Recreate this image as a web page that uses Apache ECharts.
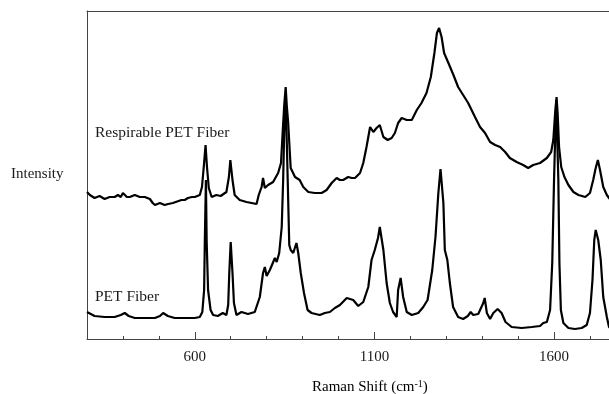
<!DOCTYPE html>
<html>
<head>
<meta charset="utf-8">
<script src="https://cdn.jsdelivr.net/npm/echarts@6/dist/echarts.min.js"></script>
<style>html,body{margin:0;padding:0;background:#fff}#c{width:609px;height:394px}</style>
</head>
<body>
<div id="c"></div>
<script>
// Raman shift (cm-1) vs. intensity (arbitrary units)
const petFiber = [[300,27],[321,23],[349,22],[377,22],[394,24],[405,26],[416,23],[433,21],[461,21],[489,21],[503,23],[512,26],[525,23],[544,21],[572,21],[600,21],[614,22],[621,27],[626,49],[628,99],[631,159],[633,99],[637,49],[644,29],[651,24],[664,23],[678,26],[688,24],[693,34],[696,66],[700,97],[705,66],[709,36],[716,24],[730,27],[748,25],[767,27],[781,42],[790,66],[795,72],[800,63],[809,69],[823,81],[828,77],[835,86],[842,112],[846,159],[849,209],[853,239],[856,199],[860,139],[863,94],[867,89],[874,86],[883,96],[888,86],[895,66],[904,46],[914,29],[925,26],[948,24],[962,26],[976,27],[990,31],[1004,34],[1023,41],[1027,43],[1041,39],[1055,33],[1069,37],[1083,52],[1092,79],[1101,89],[1110,101],[1115,112],[1125,89],[1134,56],[1143,36],[1152,27],[1162,22],[1166,49],[1173,61],[1180,42],[1190,27],[1204,24],[1222,26],[1236,32],[1248,39],[1261,69],[1270,102],[1278,146],[1284,170],[1292,136],[1296,89],[1303,79],[1310,56],[1319,32],[1333,22],[1347,20],[1360,23],[1368,27],[1375,24],[1389,25],[1394,24],[1403,36],[1407,41],[1413,26],[1422,20],[1431,26],[1443,30],[1454,26],[1465,17],[1482,12],[1510,11],[1538,12],[1561,13],[1570,16],[1580,17],[1589,29],[1595,76],[1600,159],[1606,239],[1612,159],[1615,76],[1619,29],[1626,16],[1640,11],[1658,10],[1677,11],[1691,14],[1700,26],[1707,59],[1712,99],[1716,109],[1723,99],[1730,79],[1737,42],[1747,22],[1753,12],[1765,8]];

const respirableFiber = [[300,147],[308,144],[321,141],[335,143],[349,140],[363,142],[377,142],[386,144],[394,142],[400,146],[411,142],[419,142],[433,144],[447,142],[461,142],[475,140],[483,136],[489,134],[503,136],[516,134],[526,135],[539,136],[544,137],[563,139],[572,139],[581,141],[592,142],[600,142],[614,144],[620,152],[625,172],[630,194],[634,172],[639,151],[647,142],[660,144],[672,143],[688,147],[695,162],[699,179],[705,159],[711,144],[725,139],[744,137],[758,136],[772,135],[778,144],[786,152],[790,161],[795,151],[804,154],[818,157],[832,166],[840,176],[845,209],[849,234],[853,252],[856,234],[860,216],[867,171],[879,162],[892,159],[902,152],[916,147],[934,146],[953,146],[967,149],[981,156],[995,161],[1004,159],[1013,159],[1027,162],[1037,161],[1046,161],[1060,166],[1069,176],[1078,192],[1088,212],[1097,207],[1106,211],[1115,214],[1125,202],[1137,199],[1148,201],[1157,206],[1166,216],[1176,221],[1190,219],[1204,219],[1218,229],[1231,236],[1245,246],[1257,262],[1267,286],[1274,306],[1280,311],[1287,302],[1294,286],[1306,276],[1320,264],[1333,252],[1347,244],[1361,236],[1380,222],[1394,212],[1408,206],[1422,197],[1436,194],[1450,192],[1464,187],[1477,181],[1496,177],[1514,174],[1528,171],[1542,174],[1561,176],[1580,181],[1592,187],[1598,199],[1603,226],[1607,242],[1610,226],[1614,192],[1620,172],[1629,162],[1640,154],[1654,147],[1668,144],[1687,142],[1700,146],[1709,159],[1716,171],[1722,179],[1728,169],[1737,152],[1747,144],[1753,141],[1765,136]];

const majorTicks = [600, 1100, 1600];
const xMin = 300, xMax = 1753, minorStep = 100;
const yMin = 0, yMax = 328;
const seriesNames = ['Respirable PET Fiber', 'PET Fiber'];

const FONT = "'Liberation Serif','Times New Roman',serif";
const AX = '#444';
const TXT = '#1a1a1a';

const chart = echarts.init(document.getElementById('c'), null, {renderer: 'canvas'});
chart.setOption({
  animation: false,
  backgroundColor: '#fff',
  grid: {left: 87, right: 0, top: 11, bottom: 55, containLabel: false},
  xAxis: [
    {type: 'value', min: xMin, max: xMax, interval: minorStep, position: 'bottom',
     axisLine: {show: true, onZero: false, lineStyle: {color: AX, width: 1}},
     axisTick: {show: true, inside: true, length: 3, lineStyle: {color: AX}},
     axisLabel: {show: false}, splitLine: {show: false}},
    {type: 'value', min: xMin, max: xMax, position: 'bottom', offset: 0,
     axisLine: {show: false},
     axisTick: {show: true, inside: true, length: 7, customValues: majorTicks, lineStyle: {color: AX}},
     axisLabel: {show: true, customValues: majorTicks, margin: 11, fontFamily: FONT, fontSize: 15, color: TXT,
                 formatter: function (v) { return String(v); }},
     splitLine: {show: false}},
    {type: 'value', min: xMin, max: xMax, position: 'top',
     axisLine: {show: true, onZero: false, lineStyle: {color: AX, width: 1}},
     axisTick: {show: false}, axisLabel: {show: false}, splitLine: {show: false}}
  ],
  yAxis: {type: 'value', min: yMin, max: yMax,
    axisLine: {show: true, onZero: false, lineStyle: {color: AX, width: 1}},
    axisTick: {show: false}, axisLabel: {show: false}, splitLine: {show: false}},
  series: [
    {name: seriesNames[0], type: 'line', data: respirableFiber, showSymbol: false, symbol: 'none',
     lineStyle: {color: '#000', width: 2.2}, clip: true},
    {name: seriesNames[1], type: 'line', data: petFiber, showSymbol: false, symbol: 'none',
     lineStyle: {color: '#000', width: 2.2}, clip: true}
  ],
  graphic: [
    {type: 'text', left: 11, top: 167, style: {text: 'Intensity', font: "15px " + FONT, fill: TXT}},
    {type: 'text', left: 95, top: 125, style: {text: seriesNames[0], font: "15.5px " + FONT, fill: TXT}},
    {type: 'text', left: 95, top: 289, style: {text: seriesNames[1], font: "15.5px " + FONT, fill: TXT}},
    {type: 'text', left: 312, top: 379, style: {
      text: '{a|Raman Shift (cm}{s|-1}{a|)}',
      rich: {a: {fontFamily: FONT, fontSize: 15, color: TXT},
             s: {fontFamily: FONT, fontSize: 10, color: TXT, verticalAlign: 'top', padding: [0,0,6,0]}}
    }}
  ]
});
</script>
</body>
</html>
